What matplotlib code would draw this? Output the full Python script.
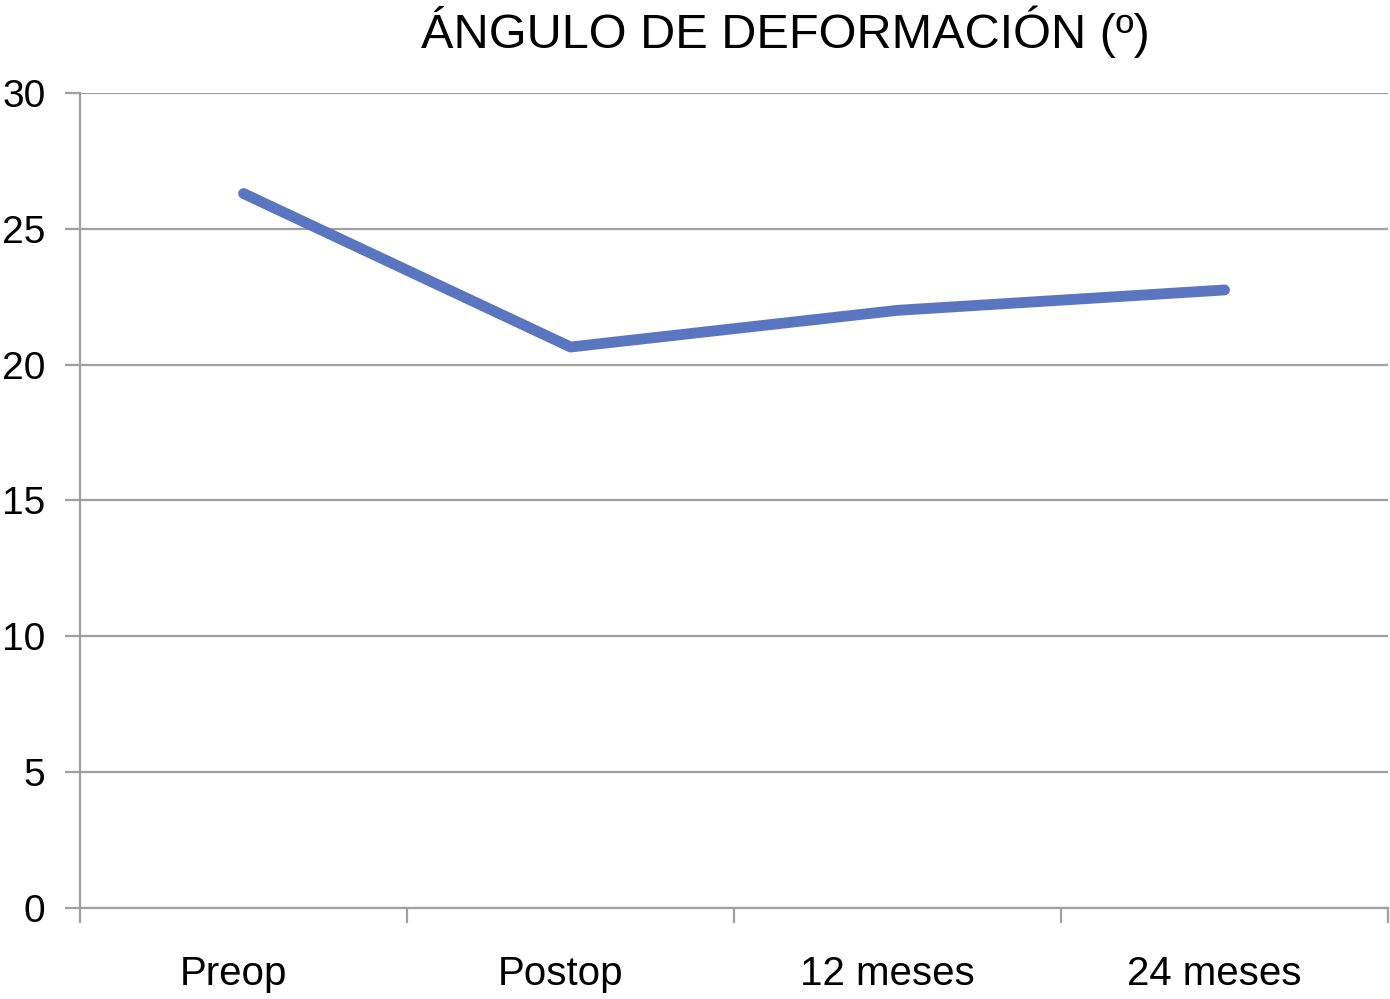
import matplotlib.pyplot as plt
from matplotlib.transforms import ScaledTranslation

# Data
categories = ["Preop", "Postop", "12 meses", "24 meses"]
angles = [26.3, 20.65, 22.0, 22.75]
yticks = [0, 5, 10, 15, 20, 25, 30]

plt.rcParams['font.family'] = ['Liberation Sans', 'DejaVu Sans']

fig = plt.figure(figsize=(13.9, 9.99), dpi=100)
ax = fig.add_axes([0.0576, 0.0911, 0.9410, 0.8158])

x = list(range(len(categories)))
ax.plot(x, angles, color="#5a76c0", linewidth=7.8, solid_capstyle="round")

ax.set_xlim(-0.5, len(categories) - 0.5)
ax.set_ylim(0, 30)

grid_color = "#a0a0a0"
ax.set_yticks(yticks)
ax.set_yticklabels([str(v) for v in yticks], fontsize=28)
ax.yaxis.grid(True, color=grid_color, linewidth=1.6)
ax.tick_params(axis="y", length=11, width=1.6, color=grid_color, pad=14)

ax.set_xticks(x)
ax.set_xticklabels(categories, fontsize=29)
ax.set_xticks([i - 0.5 for i in range(len(categories) + 1)], minor=True)
ax.tick_params(axis="x", which="major", length=0, pad=34)
ax.tick_params(axis="x", which="minor", length=11, width=1.6, color=grid_color)
shift = ScaledTranslation(-10 / 100, 0, fig.dpi_scale_trans)
for lbl in ax.get_xticklabels():
    lbl.set_transform(lbl.get_transform() + shift)

for side in ["top", "right"]:
    ax.spines[side].set_visible(False)
ax.spines["left"].set_color(grid_color)
ax.spines["left"].set_linewidth(1.6)
ax.spines["bottom"].set_color(grid_color)
ax.spines["bottom"].set_linewidth(1.6)
ax.set_axisbelow(True)

fig.text(0.565, 0.968, "ÁNGULO DE DEFORMACIÓN (º)", ha="center", va="center", fontsize=35)

fig.savefig("out.png", dpi=100)
